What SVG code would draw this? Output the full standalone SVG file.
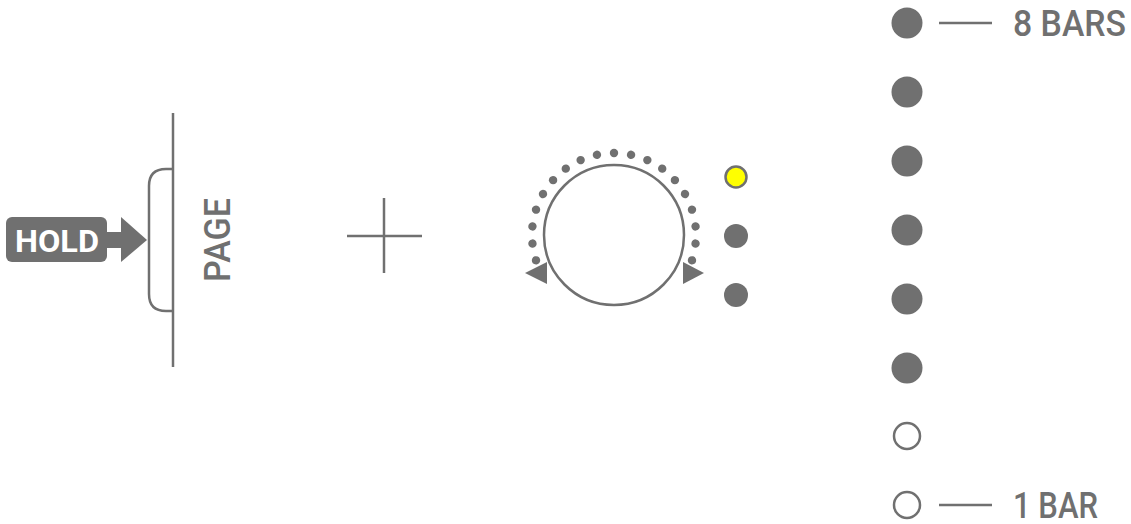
<svg xmlns="http://www.w3.org/2000/svg" width="1131" height="524" viewBox="0 0 1131 524">
<style>
.ln{stroke:#707070;stroke-width:2.5;fill:none}
.fd{fill:#707070}
.od{fill:#fff;stroke:#707070;stroke-width:2.5}
.lbl{font-family:Roboto,"Liberation Sans",sans-serif;fill:#707070;font-size:37px;font-weight:500}
</style>
<rect width="1131" height="524" fill="#fff"/>
<g id="page-button">
<line class="ln" x1="173" y1="113" x2="173" y2="367"/>
<path class="ln" d="M173 169 H166 Q149 169 149 186 V294 Q149 311 166 311 H173"/>
<text class="lbl" transform="translate(230,240) rotate(-90)" text-anchor="middle" font-size="36" textLength="84" lengthAdjust="spacingAndGlyphs">PAGE</text>
</g>
<g id="hold">
<rect class="fd" x="6" y="217" width="101" height="45" rx="6"/>
<rect class="fd" x="104" y="232" width="18" height="16"/>
<polygon class="fd" points="121,217 147,240 121,262"/>
<text x="57" y="252" text-anchor="middle" font-family="Roboto,'Liberation Sans',sans-serif" font-weight="bold" font-size="32" fill="#fff" textLength="84" lengthAdjust="spacingAndGlyphs">HOLD</text>
</g>
<g id="plus">
<line class="ln" x1="384" y1="198" x2="384" y2="273"/>
<line class="ln" x1="347" y1="236" x2="422" y2="236"/>
</g>
<g id="knob">
<circle class="ln" cx="614" cy="235" r="70" stroke-width="3"/>
<g class="fd">
<circle cx="614" cy="153" r="4.2"/>
<circle cx="614" cy="153" r="4.2" transform="rotate(12 614 235)"/>
<circle cx="614" cy="153" r="4.2" transform="rotate(24 614 235)"/>
<circle cx="614" cy="153" r="4.2" transform="rotate(36 614 235)"/>
<circle cx="614" cy="153" r="4.2" transform="rotate(48 614 235)"/>
<circle cx="614" cy="153" r="4.2" transform="rotate(60 614 235)"/>
<circle cx="614" cy="153" r="4.2" transform="rotate(72 614 235)"/>
<circle cx="614" cy="153" r="4.2" transform="rotate(84 614 235)"/>
<circle cx="614" cy="153" r="4.2" transform="rotate(96 614 235)"/>
<circle cx="614" cy="153" r="4.2" transform="rotate(108 614 235)"/>
<circle cx="614" cy="153" r="4.2" transform="rotate(-12 614 235)"/>
<circle cx="614" cy="153" r="4.2" transform="rotate(-24 614 235)"/>
<circle cx="614" cy="153" r="4.2" transform="rotate(-36 614 235)"/>
<circle cx="614" cy="153" r="4.2" transform="rotate(-48 614 235)"/>
<circle cx="614" cy="153" r="4.2" transform="rotate(-60 614 235)"/>
<circle cx="614" cy="153" r="4.2" transform="rotate(-72 614 235)"/>
<circle cx="614" cy="153" r="4.2" transform="rotate(-84 614 235)"/>
<circle cx="614" cy="153" r="4.2" transform="rotate(-96 614 235)"/>
<circle cx="614" cy="153" r="4.2" transform="rotate(-108 614 235)"/>
<polygon points="525,273 547,262 547,284"/>
<polygon points="683,262 683,284 704,273"/>
</g>
</g>
<g id="knob-leds">
<circle cx="736" cy="177" r="10.5" fill="#ffff00" stroke="#707070" stroke-width="2.5"/>
<circle class="fd" cx="736" cy="236" r="12"/>
<circle class="fd" cx="736" cy="295" r="12"/>
</g>
<g id="bar-leds">
<circle class="fd" cx="907" cy="23" r="15.5"/>
<circle class="fd" cx="907" cy="92" r="15.5"/>
<circle class="fd" cx="907" cy="161" r="15.5"/>
<circle class="fd" cx="907" cy="230" r="15.5"/>
<circle class="fd" cx="907" cy="299" r="15.5"/>
<circle class="fd" cx="907" cy="368" r="15.5"/>
<circle class="od" cx="907" cy="436" r="13"/>
<circle class="od" cx="907" cy="505" r="13"/>
</g>
<g id="connectors">
<line class="ln" x1="939" y1="23" x2="992" y2="23"/>
<line class="ln" x1="939" y1="505" x2="992" y2="505"/>
</g>
<g id="labels">
<text class="lbl" x="1013" y="36" textLength="113" lengthAdjust="spacingAndGlyphs">8 BARS</text>
<text class="lbl" x="1013" y="518" textLength="85" lengthAdjust="spacingAndGlyphs">1 BAR</text>
</g>
</svg>
